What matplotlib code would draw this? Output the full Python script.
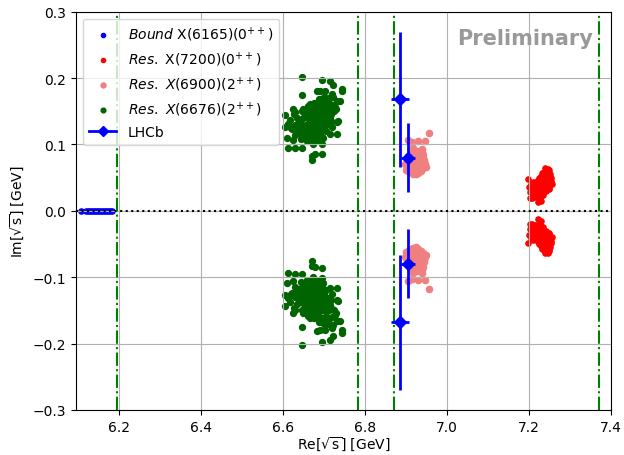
import numpy as np
import matplotlib
matplotlib.use('Agg')
import matplotlib.pyplot as plt
from matplotlib.lines import Line2D

# thresholds (GeV): J/psi J/psi, J/psi psi(2S), J/psi psi(3770), psi(2S) psi(2S)
thresholds = [6.194, 6.783, 6.870, 7.372]

# bound state X(6165) poles on the real axis
bound_re = [6.107, 6.118, 6.123, 6.128, 6.133, 6.138, 6.143, 6.148, 6.153, 6.158, 6.163, 6.168,
            6.173, 6.178, 6.183]
bound_im = [0.0] * len(bound_re)

# X(7200) resonance poles (upper half plane; lower half is the conjugate)
x7200_re = [7.197, 7.221, 7.229, 7.203, 7.208, 7.214, 7.220, 7.226, 7.203, 7.210, 7.216, 7.222,
            7.228, 7.234, 7.206, 7.212, 7.218, 7.224, 7.230, 7.236, 7.242, 7.214, 7.220, 7.226,
            7.232, 7.238, 7.244, 7.250, 7.222, 7.228, 7.234, 7.240, 7.246, 7.252, 7.256, 7.230,
            7.236, 7.242, 7.248, 7.254, 7.236, 7.242, 7.248, 7.252, 7.240, 7.246, 7.250, 7.201,
            7.205, 7.209, 7.217, 7.231, 7.239, 7.245, 7.255, 7.233, 7.225, 7.219, 7.211, 7.249]
x7200_im = [0.048, 0.013, 0.015, 0.020, 0.020, 0.021, 0.022, 0.020, 0.028, 0.027, 0.026, 0.027,
            0.025, 0.024, 0.035, 0.034, 0.033, 0.032, 0.031, 0.030, 0.030, 0.041, 0.040, 0.039,
            0.038, 0.037, 0.036, 0.035, 0.047, 0.046, 0.045, 0.044, 0.043, 0.042, 0.040, 0.053,
            0.052, 0.051, 0.050, 0.049, 0.059, 0.058, 0.057, 0.055, 0.064, 0.063, 0.061, 0.036,
            0.041, 0.031, 0.043, 0.057, 0.047, 0.053, 0.045, 0.036, 0.050, 0.037, 0.044, 0.033]

# X(6900) resonance poles
x6900_re = [6.906, 6.915, 6.930, 6.946, 6.956, 6.918, 6.940, 6.898, 6.904, 6.910, 6.916, 6.922,
            6.928, 6.934, 6.940, 6.946, 6.900, 6.906, 6.912, 6.918, 6.924, 6.930, 6.936, 6.942,
            6.948, 6.902, 6.908, 6.914, 6.920, 6.926, 6.932, 6.938, 6.944, 6.906, 6.912, 6.918,
            6.924, 6.930, 6.936, 6.942, 6.914, 6.920, 6.926, 6.932, 6.938, 6.928, 6.934, 6.940,
            6.903, 6.909, 6.915, 6.921, 6.927, 6.933, 6.939, 6.945, 6.911, 6.917, 6.923, 6.929,
            6.935, 6.941, 6.919, 6.925, 6.931, 6.937]
x6900_im = [0.106, 0.103, 0.105, 0.105, 0.118, 0.094, 0.093, 0.070, 0.068, 0.066, 0.064, 0.066,
            0.068, 0.070, 0.072, 0.070, 0.062, 0.060, 0.058, 0.056, 0.055, 0.057, 0.060, 0.064,
            0.066, 0.076, 0.075, 0.073, 0.072, 0.074, 0.076, 0.078, 0.077, 0.082, 0.081, 0.080,
            0.079, 0.081, 0.083, 0.084, 0.087, 0.087, 0.086, 0.086, 0.087, 0.090, 0.089, 0.088,
            0.073, 0.071, 0.069, 0.067, 0.071, 0.073, 0.075, 0.074, 0.063, 0.061, 0.060, 0.062,
            0.065, 0.068, 0.077, 0.078, 0.079, 0.081]

# X(6676) resonance poles
x6676_re = [6.646, 6.695, 6.715, 6.722, 6.743, 6.743, 6.682, 6.690, 6.702, 6.646, 6.739, 6.605,
            6.629, 6.605, 6.731, 6.734, 6.731, 6.609, 6.624, 6.694, 6.612, 6.629, 6.646, 6.694,
            6.670, 6.678, 6.670, 6.719, 6.722, 6.731, 6.649, 6.666, 6.624, 6.612, 6.621, 6.633,
            6.646, 6.719, 6.715, 6.698, 6.666, 6.682, 6.660, 6.668, 6.675, 6.682, 6.690, 6.672,
            6.685, 6.695, 6.700, 6.678, 6.665, 6.655, 6.650, 6.662, 6.670, 6.688, 6.695, 6.705,
            6.708, 6.700, 6.690, 6.680, 6.668, 6.655, 6.645, 6.640, 6.648, 6.658, 6.676, 6.684,
            6.671, 6.679, 6.692, 6.686, 6.664, 6.697, 6.705, 6.712, 6.715, 6.690, 6.675, 6.660,
            6.645, 6.635, 6.630, 6.638, 6.628, 6.620, 6.700, 6.710, 6.720, 6.725, 6.683, 6.672,
            6.690, 6.680, 6.673, 6.687, 6.693, 6.667, 6.677, 6.683, 6.703, 6.657, 6.617, 6.626,
            6.641, 6.652, 6.659, 6.663, 6.674, 6.681, 6.697, 6.706, 6.711, 6.718, 6.727, 6.713,
            6.699, 6.688, 6.661, 6.651, 6.637, 6.643, 6.668, 6.679, 6.691, 6.704, 6.716, 6.729]
x6676_im = [0.202, 0.197, 0.195, 0.189, 0.184, 0.180, 0.181, 0.180, 0.180, 0.175, 0.166, 0.144,
            0.149, 0.127, 0.134, 0.136, 0.116, 0.109, 0.106, 0.101, 0.094, 0.095, 0.095, 0.086,
            0.083, 0.085, 0.076, 0.176, 0.172, 0.166, 0.154, 0.161, 0.154, 0.131, 0.124, 0.121,
            0.116, 0.126, 0.116, 0.109, 0.109, 0.106, 0.140, 0.135, 0.130, 0.128, 0.132, 0.145,
            0.140, 0.138, 0.125, 0.120, 0.125, 0.130, 0.120, 0.115, 0.110, 0.118, 0.112, 0.120,
            0.135, 0.145, 0.150, 0.155, 0.152, 0.148, 0.138, 0.128, 0.112, 0.105, 0.138, 0.133,
            0.127, 0.124, 0.126, 0.145, 0.133, 0.150, 0.158, 0.150, 0.142, 0.160, 0.162, 0.158,
            0.150, 0.140, 0.130, 0.118, 0.115, 0.125, 0.165, 0.170, 0.160, 0.150, 0.112, 0.100,
            0.142, 0.134, 0.122, 0.126, 0.120, 0.143, 0.148, 0.136, 0.130, 0.122, 0.137, 0.146,
            0.133, 0.141, 0.124, 0.119, 0.117, 0.114, 0.129, 0.138, 0.131, 0.146, 0.157, 0.163,
            0.171, 0.168, 0.147, 0.126, 0.123, 0.108, 0.139, 0.150, 0.119, 0.149, 0.135, 0.154]

# LHCb X(6900): mass and width with errors
lhcb_re = [6.886, 6.905]
lhcb_im = [0.168, 0.080]
lhcb_re_err = [0.022, 0.018]
lhcb_im_err = [0.102, 0.052]


def conj(re, im):
    return list(re) + list(re), list(im) + [-v for v in im]


fig = plt.figure(figsize=(6.24, 4.56), dpi=100)
ax = fig.add_axes([0.122, 0.099, 0.857, 0.873])

ax.grid(True)
ax.axhline(0, color='k', ls=':', lw=1.5)
for t in thresholds:
    ax.axvline(t, color='g', ls='-.', lw=1.5)

ax.scatter(bound_re, bound_im, s=14, c='b', label=r'$\it{Bound}$ X(6165)$(0^{++})$')
xr, yr = conj(x7200_re, x7200_im)
ax.scatter(xr, yr, s=14, c='r', label=r'$\it{Res.}$ X(7200)$(0^{++})$')
xr, yr = conj(x6900_re, x6900_im)
ax.scatter(xr, yr, s=20, c='lightcoral', label=r'$\it{Res.}\ X$(6900)$(2^{++})$')
xr, yr = conj(x6676_re, x6676_im)
ax.scatter(xr, yr, s=18, c='darkgreen', label=r'$\it{Res.}\ X$(6676)$(2^{++})$')

xr, yr = conj(lhcb_re, lhcb_im)
ax.errorbar(xr, yr, xerr=lhcb_re_err * 2, yerr=lhcb_im_err * 2, fmt='D', color='b',
            ms=6, elinewidth=2, label='LHCb')

ax.text(0.84, 0.935, 'Preliminary', transform=ax.transAxes, fontsize=15,
        fontweight='bold', color='#999999', ha='center', va='center')

ax.set_xlim(6.095, 7.4)
ax.set_ylim(-0.3, 0.3)
ax.set_xticks([6.2, 6.4, 6.6, 6.8, 7.0, 7.2, 7.4])
ax.set_xlabel(r'Re[$\sqrt{\mathrm{s}}$] [GeV]', labelpad=1)
ax.set_ylabel(r'Im[$\sqrt{\mathrm{s}}$] [GeV]')

handles, labels = ax.get_legend_handles_labels()
handles[-1] = Line2D([], [], color='b', marker='D', ls='-', lw=2, ms=6)
ax.legend(handles, labels, loc='upper left', scatterpoints=1, markerscale=0.8)

fig.savefig('out.png', dpi=100)
